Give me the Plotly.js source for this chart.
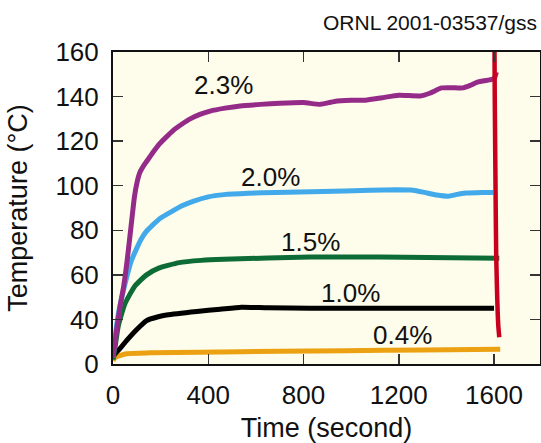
<!DOCTYPE html>
<html>
<head>
<meta charset="utf-8">
<script src="https://cdn.plot.ly/plotly-3.0.1.min.js"></script>
<style>html,body{margin:0;padding:0;background:#fff;}#chart{width:541px;height:443px;}</style>
</head>
<body>
<div id="chart"></div>
<script>
// Time (s) and temperature readings for each concentration
const t23 = [0, 15, 30, 45, 60, 75, 90, 100, 113, 135, 155, 175, 197, 230, 261, 290, 324, 365, 408, 470, 534, 620, 700, 800, 870, 930, 1000, 1060, 1130, 1200, 1290, 1330, 1380, 1420, 1470, 1500, 1530, 1580, 1600, 1610];
const v23 = [23, 35, 46, 55, 67, 81, 95, 101, 106, 110, 113, 116, 119, 122.5, 125.5, 127.7, 130, 132, 133.5, 134.8, 135.8, 136.5, 137, 137.3, 136.5, 137.8, 138.3, 138.4, 139.5, 140.6, 140.3, 141.5, 143.9, 144, 143.9, 145, 146.5, 147.5, 148, 151];

const t20 = [0, 10, 25, 46, 76, 100, 118, 140, 163, 200, 248, 290, 336, 400, 466, 570, 684, 974, 1192, 1260, 1308, 1360, 1408, 1440, 1481, 1550, 1597];
const v20 = [23, 33, 44, 54, 66, 72, 76, 79.5, 82, 85.5, 88.5, 91, 93, 95, 96, 96.6, 97, 97.6, 98.2, 98, 97, 95.8, 95.3, 96, 96.7, 97, 97];

const t15 = [0, 8, 22, 50, 92, 141, 192, 278, 370, 466, 828, 1118, 1622];
const v15 = [22, 27, 37, 47, 55, 60, 63, 65.5, 66.5, 67, 68, 68, 67.5];

const t10 = [0, 8, 30, 57, 100, 141, 190, 225, 352, 450, 539, 650, 828, 1200, 1600];
const v10 = [23, 24.5, 27, 30.5, 35.5, 39.5, 41.2, 42, 43.6, 44.6, 45.5, 45.2, 45, 45, 45];

const t04 = [0, 10, 57, 155, 365, 700, 975, 1300, 1626];
const v04 = [21.5, 23, 24.6, 25, 25.3, 25.7, 26, 26.3, 26.6];

// red cut-off marker
const tRed = [1602, 1603, 1605, 1607, 1609, 1612, 1615, 1618, 1622];
const vRed = [161, 140, 115, 90, 70, 55, 44, 37, 32];

const yTickVals = [20, 40, 60, 80, 100, 120, 140, 160];
const yTickText = ['0', '40', '60', '80', '100', '120', '140', '160'];
const xTickVals = [0, 400, 800, 1200, 1600];

const labels = ['2.3%', '2.0%', '1.5%', '1.0%', '0.4%'];
const labelT = [462, 660, 830, 996, 1214];
const labelV = [145.4, 103.8, 74.9, 51.8, 32.8];

const FONT = '"Liberation Sans", Arial, Helvetica, sans-serif';

function line(x, y, color, w) {
  return {x: x, y: y, type: 'scatter', mode: 'lines',
          line: {color: color, width: w, shape: 'spline', smoothing: 0.5},
          hoverinfo: 'skip', showlegend: false};
}

const traces = [
  line(t04, v04, '#eba112', 5),
  line(t10, v10, '#000000', 5),
  line(t15, v15, '#0d6b35', 5),
  line(t20, v20, '#42aaea', 5),
  line(t23, v23, '#952b88', 5),
  line(tRed, vRed, '#c8001e', 4.5)
];

const annotations = labels.map((s, i) => ({
  x: labelT[i], y: labelV[i], xref: 'x', yref: 'y', text: s, showarrow: false,
  font: {family: FONT, size: 26, color: '#111'}, xanchor: 'center', yanchor: 'middle'
}));
annotations.push({
  x: 1.0, y: 1.0, xref: 'paper', yref: 'paper', text: 'ORNL 2001-03537/gss', showarrow: false,
  font: {family: FONT, size: 21, color: '#111'}, xanchor: 'right', yanchor: 'bottom',
  xshift: -1, yshift: 16
});

const layout = {
  width: 541, height: 443,
  margin: {l: 113, r: 1, t: 52, b: 79, pad: 0},
  paper_bgcolor: '#ffffff',
  plot_bgcolor: '#fefcea',
  font: {family: FONT, color: '#111'},
  showlegend: false,
  xaxis: {
    range: [0, 1793], tickvals: xTickVals, ticks: 'inside', ticklen: 10, tickwidth: 1.5,
    tickcolor: '#333', showline: true, linecolor: '#111', linewidth: 2, mirror: 'ticks',
    showgrid: false, zeroline: false, tickfont: {family: FONT, size: 26, color: '#111'},
    ticklabelstandoff: 7,
    title: {text: 'Time (second)', font: {family: FONT, size: 27, color: '#111'}, standoff: 13}
  },
  yaxis: {
    range: [20, 160], tickvals: yTickVals, ticktext: yTickText, ticks: 'inside', ticklen: 10,
    tickwidth: 1.5, tickcolor: '#333', showline: true, linecolor: '#111', linewidth: 2,
    mirror: 'ticks', showgrid: false, zeroline: false,
    tickfont: {family: FONT, size: 26, color: '#111'}, ticklabelstandoff: 7,
    title: {text: 'Temperature (°C)', font: {family: FONT, size: 27, color: '#111'}, standoff: 20}
  },
  annotations: annotations
};

Plotly.newPlot('chart', traces, layout, {staticPlot: true, displayModeBar: false});
</script>
</body>
</html>
